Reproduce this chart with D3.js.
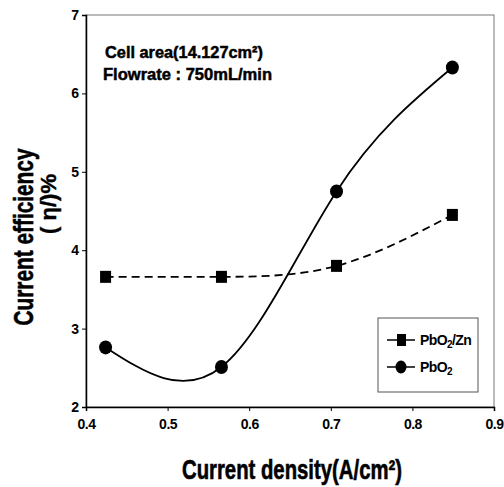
<!DOCTYPE html>
<html>
<head>
<meta charset="utf-8">
<script src="https://cdn.jsdelivr.net/npm/d3@7"></script>
<style>
  body { margin: 0; background: #fff; }
  svg { font-family: "Liberation Sans", Arial, sans-serif; font-weight: bold; }
</style>
</head>
<body>
<svg id="chart" width="504" height="487"></svg>
<script>
// current density (A/cm2)
var density = [0.424, 0.566, 0.707, 0.849];
// current efficiency (%)
var pbo2Zn = [3.66, 3.66, 3.80, 4.45];
var pbo2 = [2.76, 2.51, 4.75, 6.33];
var xTicks = [0.4, 0.5, 0.6, 0.7, 0.8, 0.9];
var yTicks = [2, 3, 4, 5, 6, 7];
var seriesNames = ["PbO2/Zn", "PbO2"];

var svg = d3.select("#chart");
var plotL = 86, plotR = 494, plotT = 15, plotB = 407;

var x = d3.scaleLinear().domain([0.4, 0.9]).range([plotL, plotR]);
var y = d3.scaleLinear().domain([2, 7]).range([plotB, plotT]);

// frame
svg.append("rect")
  .attr("x", plotL).attr("y", plotT)
  .attr("width", plotR - plotL).attr("height", plotB - plotT)
  .attr("fill", "none").attr("stroke", "#777").attr("stroke-width", 1);

var xAxis = d3.axisBottom(x).tickValues(xTicks).tickSize(4).tickFormat(d3.format(".1f"));
var yAxis = d3.axisLeft(y).tickValues(yTicks).tickSize(4).tickFormat(d3.format("d"));

var gx = svg.append("g").attr("transform", "translate(0," + plotB + ")").call(xAxis);
gx.select(".domain").attr("stroke", "#000").attr("stroke-width", 1.5);
gx.selectAll("text").attr("font-size", 14).attr("font-weight", "bold")
  .attr("font-family", "Liberation Sans, Arial, sans-serif").attr("dy", "1.05em")
  .attr("letter-spacing", -0.5);

var gy = svg.append("g").attr("transform", "translate(" + plotL + ",0)").call(yAxis);
gy.select(".domain").attr("stroke", "#000").attr("stroke-width", 1.5);
gy.selectAll("text").attr("font-size", 14).attr("font-weight", "bold")
  .attr("font-family", "Liberation Sans, Arial, sans-serif").attr("x", -7);

var line = d3.line()
  .x(function(d, i) { return x(density[i]); })
  .y(function(d) { return y(d); })
  .curve(d3.curveNatural);

svg.append("path").datum(pbo2Zn)
  .attr("d", line).attr("fill", "none").attr("stroke", "#000")
  .attr("stroke-width", 1.8).attr("stroke-dasharray", "8,5");

svg.append("path").datum(pbo2)
  .attr("d", line).attr("fill", "none").attr("stroke", "#000")
  .attr("stroke-width", 1.8);

svg.selectAll(".sq").data(pbo2Zn).enter().append("rect")
  .attr("x", function(d, i) { return x(density[i]) - 5.5; })
  .attr("y", function(d) { return y(d) - 6; })
  .attr("width", 11).attr("height", 12).attr("fill", "#000");

svg.selectAll(".ci").data(pbo2).enter().append("ellipse")
  .attr("cx", function(d, i) { return x(density[i]); })
  .attr("cy", function(d) { return y(d); })
  .attr("rx", 6.5).attr("ry", 7).attr("fill", "#000");

// annotation
svg.append("text").attr("x", 105).attr("y", 58)
  .attr("font-size", 17).attr("stroke", "#000").attr("stroke-width", 0.5)
  .attr("textLength", 158).attr("lengthAdjust", "spacingAndGlyphs")
  .text("Cell area(14.127cm²)");
svg.append("text").attr("x", 103).attr("y", 80)
  .attr("font-size", 17).attr("stroke", "#000").attr("stroke-width", 0.5)
  .attr("textLength", 169).attr("lengthAdjust", "spacingAndGlyphs")
  .text("Flowrate : 750mL/min");

// legend
svg.append("rect").attr("x", 378).attr("y", 318).attr("width", 100).attr("height", 74)
  .attr("fill", "#fff").attr("stroke", "#555").attr("stroke-width", 1);

var leg = svg.selectAll(".leg").data(seriesNames).enter().append("g")
  .attr("transform", function(d, i) { return "translate(387," + (340 + i * 27) + ")"; });
leg.append("line").attr("x1", 0).attr("x2", 28).attr("stroke", "#000").attr("stroke-width", 1.5);
leg.filter(function(d, i) { return i === 0; }).append("rect")
  .attr("x", 10).attr("y", -6).attr("width", 9).attr("height", 12).attr("fill", "#000");
leg.filter(function(d, i) { return i === 1; }).append("ellipse")
  .attr("cx", 14).attr("cy", 0).attr("rx", 5.5).attr("ry", 6.5).attr("fill", "#000");
leg.append("text").attr("x", 33).attr("y", 5).attr("font-size", 14)
  .attr("letter-spacing", -0.6)
  .each(function(d) {
    var t = d3.select(this);
    t.append("tspan").text("PbO");
    t.append("tspan").attr("font-size", 10).attr("dy", 3).text("2");
    if (d === "PbO2/Zn") t.append("tspan").attr("dy", -3).text("/Zn");
  });

// axis titles
svg.append("text").attr("x", 292).attr("y", 479).attr("text-anchor", "middle")
  .attr("font-size", 27).attr("stroke", "#000").attr("stroke-width", 0.6)
  .attr("textLength", 220).attr("lengthAdjust", "spacingAndGlyphs")
  .text("Current density(A/cm²)");

svg.append("text").attr("transform", "translate(33,237) rotate(-90)")
  .attr("text-anchor", "middle").attr("font-size", 27)
  .attr("stroke", "#000").attr("stroke-width", 0.6)
  .attr("textLength", 177).attr("lengthAdjust", "spacingAndGlyphs")
  .text("Current efficiency");
svg.append("text").attr("transform", "translate(56,204) rotate(-90)")
  .attr("text-anchor", "middle").attr("font-size", 22)
  .attr("stroke", "#000").attr("stroke-width", 0.4)
  .text("( η/)%");
</script>
</body>
</html>
